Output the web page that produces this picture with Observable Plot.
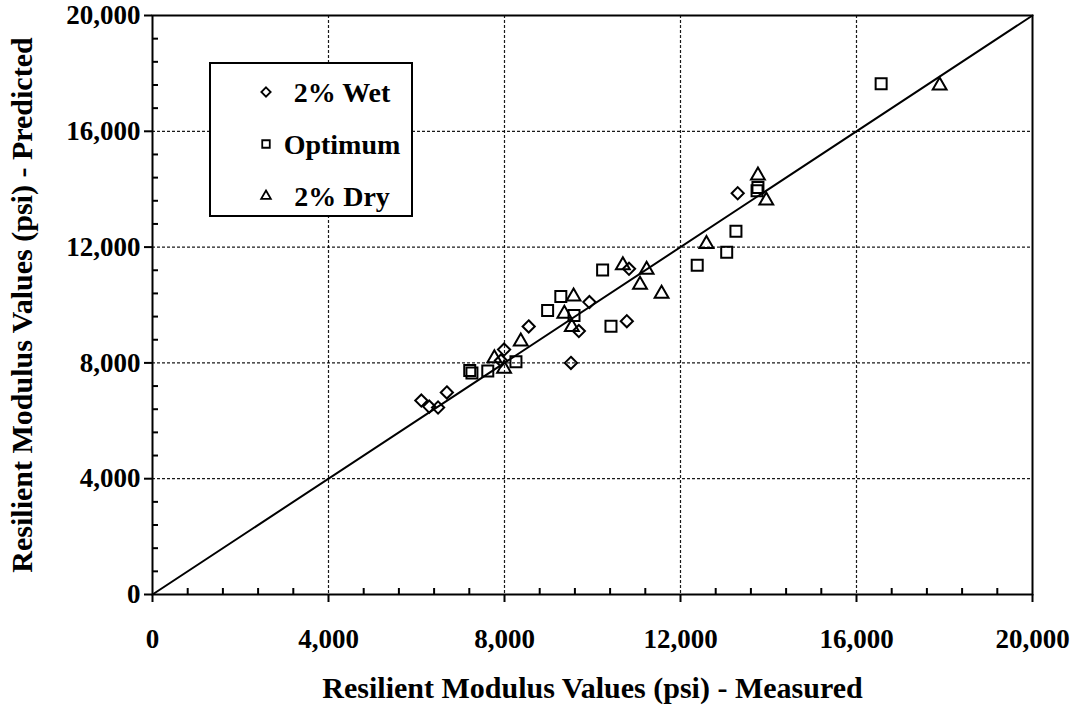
<!DOCTYPE html>
<html>
<head>
<meta charset="utf-8">
<script src="https://cdn.jsdelivr.net/npm/d3@7"></script>
<script src="https://cdn.jsdelivr.net/npm/@observablehq/plot@0.6"></script>
<style>
  body { margin: 0; background: #fff; }
  #wrap { position: relative; width: 1080px; height: 706px; font-family: "Liberation Serif", "Times New Roman", serif; }
  #legend { position: absolute; left: 209px; top: 62px; }
</style>
</head>
<body>
<div id="wrap"></div>
<script>
// ---- data (psi) ----
const seriesNames = ["2% Wet", "Optimum", "2% Dry"];

const wetMeasured  = [6110, 6290, 6490, 6690, 7990, 7920, 8550, 9510, 9690, 9930, 10780, 10830, 13300];
const wetPredicted = [6700, 6490, 6460, 6980, 8460, 8080, 9260, 8000, 9100, 10100, 9440, 11250, 13860];

const optMeasured  = [7210, 7260, 7620, 8260, 8980, 9280, 9580, 10230, 10420, 12380, 13050, 13260, 13740, 13760, 16560];
const optPredicted = [7740, 7650, 7720, 8040, 9810, 10290, 9640, 11210, 9270, 11370, 11820, 12550, 13950, 14060, 17640];

const dryMeasured  = [7770, 7990, 8370, 9360, 9530, 9570, 10690, 11080, 11230, 11570, 12590, 13760, 13950, 17890];
const dryPredicted = [8160, 7800, 8740, 9700, 9240, 10290, 11370, 10700, 11220, 10390, 12110, 14470, 13610, 17580];

const majorTicks = [0, 4000, 8000, 12000, 16000, 20000];
const equalityLine = [0, 20000];
const xTitle = "Resilient Modulus Values (psi) - Measured";
const yTitle = "Resilient Modulus Values (psi) - Predicted";

// ---- build table ----
const points = [
  ...wetMeasured.map((m, i) => ({series: seriesNames[0], measured: m, predicted: wetPredicted[i]})),
  ...optMeasured.map((m, i) => ({series: seriesNames[1], measured: m, predicted: optPredicted[i]})),
  ...dryMeasured.map((m, i) => ({series: seriesNames[2], measured: m, predicted: dryPredicted[i]}))
];
const minorTicks = d3.range(0, 20001, 800).filter(v => v % 4000 !== 0);
const innerTicks = majorTicks.filter(v => v > 0 && v < 20000);

const W = 1080, H = 706, ML = 152, MR = 48, MT = 15, MB = 112;
const PW = W - ML - MR, PH = H - MT - MB;
const FONT = "'Liberation Serif', 'Times New Roman', serif";

const symbolOf = {"2% Wet": "diamond2", "Optimum": "square2", "2% Dry": "triangle2"};
const rOf = {"2% Wet": 5.5, "Optimum": 7, "2% Dry": 6.6};

const chart = Plot.plot({
  width: W, height: H,
  marginLeft: ML, marginRight: MR, marginTop: MT, marginBottom: MB,
  style: {fontFamily: FONT, fontSize: "27px", fontWeight: "bold", color: "#000", background: "#fff"},
  x: {domain: [0, 20000]},
  y: {domain: [0, 20000]},
  marks: [
    Plot.gridX(innerTicks, {stroke: "#000", strokeOpacity: 0.9, strokeWidth: 1.2, strokeDasharray: "3,2"}),
    Plot.gridY(innerTicks, {stroke: "#000", strokeOpacity: 0.9, strokeWidth: 1.2, strokeDasharray: "3,2"}),
    Plot.line(equalityLine, {x: d => d, y: d => d, stroke: "#000", strokeWidth: 2}),
    ...seriesNames.map(s => Plot.dot(points.filter(p => p.series === s), {
      x: "measured", y: "predicted", symbol: () => symbolOf[s], r: rOf[s],
      stroke: "#000", strokeWidth: 2, fill: "none"
    })),
    Plot.tickX(minorTicks, {x: d => d, insetTop: PH - 6, stroke: "#000", strokeWidth: 2}),
    Plot.tickY(minorTicks, {y: d => d, insetRight: PW - 6, stroke: "#000", strokeWidth: 2}),
    Plot.frame({stroke: "#000", strokeWidth: 2}),
    Plot.axisX({ticks: majorTicks, tickSize: 8, tickPadding: 26, tickFormat: d3.format(","), strokeWidth: 2, label: null, fontSize: 27, fontWeight: "bold", fill: "#000"}),
    Plot.axisY({ticks: majorTicks, tickSize: 8, tickPadding: 4, tickFormat: d3.format(","), strokeWidth: 2, label: null, fontSize: 27, fontWeight: "bold", fill: "#000"}),
    Plot.text([xTitle], {text: d => d, frameAnchor: "bottom", dy: 94, textAnchor: "middle", lineAnchor: "middle", fontSize: 30, fontWeight: "bold", fill: "#000"}),
    Plot.text([yTitle], {text: d => d, frameAnchor: "left", dx: -130, rotate: -90, textAnchor: "middle", lineAnchor: "middle", fontSize: 30, fontWeight: "bold", fill: "#000"})
  ]
});
const wrap = document.getElementById("wrap");
wrap.appendChild(chart);

// ---- legend (HTML overlay, built from series names) ----
const lw = 204, lh = 155;
const leg = d3.select(wrap).append("svg").attr("id", "legend").attr("width", lw).attr("height", lh);
leg.append("rect").attr("x", 1).attr("y", 1).attr("width", lw - 2).attr("height", lh - 2)
  .attr("fill", "#fff").attr("stroke", "#000").attr("stroke-width", 2);
const d3sym = {"2% Wet": d3.symbolDiamond2, "Optimum": d3.symbolSquare2, "2% Dry": d3.symbolTriangle2};
const legR = {"2% Wet": 4.2, "Optimum": 4.8, "2% Dry": 4.6};
seriesNames.forEach((s, i) => {
  const cy = 30 + i * 52;
  leg.append("path").attr("transform", `translate(57,${cy})`)
    .attr("d", d3.symbol(d3sym[s], legR[s] * legR[s] * Math.PI)())
    .attr("fill", "none").attr("stroke", "#000").attr("stroke-width", 1.8);
  leg.append("text").attr("x", 133).attr("y", cy).attr("dy", "0.35em")
    .attr("text-anchor", "middle").attr("font-family", FONT).attr("font-weight", "bold")
    .attr("font-size", 28).attr("fill", "#000").text(s);
});
</script>
</body>
</html>
